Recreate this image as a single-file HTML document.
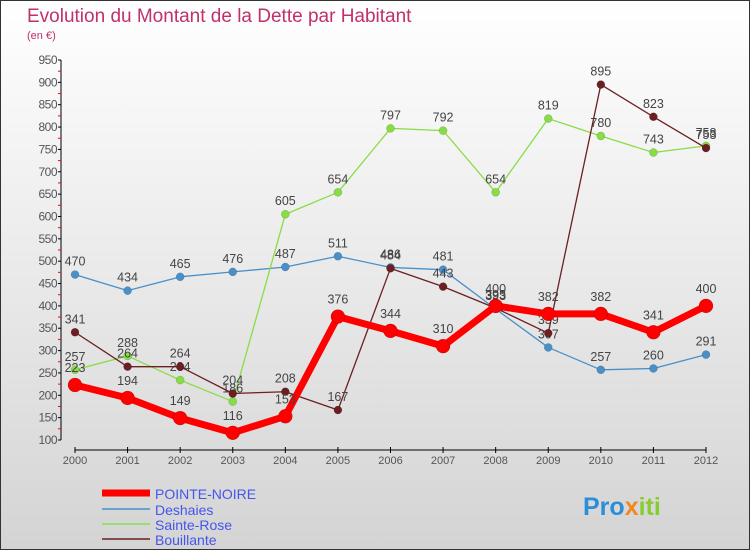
<!DOCTYPE html>
<html><head><meta charset="utf-8"><style>
body{margin:0}
#c{width:750px;height:550px;position:relative;font-family:"Liberation Sans","DejaVu Sans",sans-serif;}
</style></head><body>
<div id="c">
<svg id="s" width="750" height="550" xmlns="http://www.w3.org/2000/svg">
<defs><linearGradient id="bg" x1="0" y1="0" x2="0" y2="1"><stop offset="0" stop-color="#ffffff"/><stop offset="1" stop-color="#d4d4d4"/></linearGradient></defs>
<rect x="0.5" y="0.5" width="749" height="549" fill="url(#bg)" stroke="#333"/>
<text x="27" y="22" font-size="19" fill="#c0306a">Evolution du Montant de la Dette par Habitant</text>
<text x="27" y="39" font-size="11" fill="#c0306a">(en €)</text>
<g id="axes"></g><g id="series"></g>
<g>
<line x1="102" y1="493" x2="150" y2="493" stroke="#ff0000" stroke-width="7"/>
<text x="155" y="499" font-size="14" fill="#4455ee">POINTE-NOIRE</text>
<line x1="102" y1="509" x2="150" y2="509" stroke="#4a90c8" stroke-width="1.5"/>
<text x="155" y="515" font-size="14" fill="#4455ee">Deshaies</text>
<line x1="102" y1="524" x2="150" y2="524" stroke="#88dd55" stroke-width="1.5"/>
<text x="155" y="530" font-size="14" fill="#4455ee">Sainte-Rose</text>
<line x1="102" y1="539" x2="150" y2="539" stroke="#6b1f22" stroke-width="1.5"/>
<text x="155" y="545" font-size="14" fill="#4455ee">Bouillante</text>
</g>
<text x="583" y="515" font-size="25" font-weight="bold" fill="#2a8fd8">Pro<tspan fill="#f08a20">x</tspan><tspan fill="#88cc33">iti</tspan></text>
</svg></div>
<script>
const years=[2000,2001,2002,2003,2004,2005,2006,2007,2008,2009,2010,2011,2012];
const pointeNoire=[223,194,149,116,153,376,344,310,400,382,382,341,400];
const deshaies=[470,434,465,476,487,511,486,481,393,307,257,260,291];
const sainteRose=[257,288,234,186,605,654,797,792,654,819,780,743,758];
const bouillante=[341,264,264,204,208,167,484,443,395,339,895,823,753];
const yTicks=[100,150,200,250,300,350,400,450,500,550,600,650,700,750,800,850,900,950];
const NS='http://www.w3.org/2000/svg';
const X=i=>75+i*(706-75)/(years.length-1);
const Y=v=>440-(v-100)*(380/850);
function mk(t,a,p){const e=document.createElementNS(NS,t);for(const k in a)e.setAttribute(k,a[k]);p.appendChild(e);return e;}
const ax=document.getElementById('axes');
let yl=mk('line',{x1:61,y1:Y(950),x2:61,y2:Y(100),stroke:'#000'},ax);


let xl=mk('line',{x1:X(0),y1:450,x2:X(years.length-1),y2:450,stroke:'#000'},ax);


yTicks.forEach((v,i)=>{
 mk('line',{x1:58,y1:Y(v),x2:61,y2:Y(v),stroke:'#000'},ax);
 if(i<yTicks.length-1)mk('line',{x1:58,y1:Y(v+25),x2:61,y2:Y(v+25),stroke:'#f00'},ax);
 const t=mk('text',{x:57,y:Y(v)+4,'font-size':12,fill:'#555','text-anchor':'end','letter-spacing':'-0.5'},ax);
 t.textContent=v;
 
 
});
years.forEach((y,i)=>{
 mk('line',{x1:X(i),y1:447,x2:X(i),y2:453,stroke:'#000'},ax);
 const t=mk('text',{x:X(i),y:464,'font-size':11,fill:'#555','text-anchor':'middle'},ax);
 t.textContent=y;
 
 
});
const sg=document.getElementById('series');
function draw(data,name,color,w,r){
 const g=mk('g',{},sg);
 
 
 mk('polyline',{points:data.map((v,i)=>X(i)+','+Y(v)).join(' '),fill:'none',stroke:color,'stroke-width':w,'stroke-linejoin':'round'},g);
 data.forEach((v,i)=>{
  const c=mk('circle',{cx:X(i),cy:Y(v),r:r,fill:color,stroke:'rgba(0,0,0,0.25)','stroke-width':0.5},g);
  
  
  const t=mk('text',{x:X(i),y:Y(v)-9-(r>5?4:0),'font-size':12.5,fill:'#444','text-anchor':'middle'},g);
  t.textContent=v;
 });
}
draw(deshaies,'deshaies','#4a90c8',1.3,4);
draw(sainteRose,'sainte-rose','#88dd44',1.3,4);
draw(bouillante,'bouillante','#6b1f22',1.3,4);
draw(pointeNoire,'pointe-noire','#ff0000',7,7);
</script>
</body></html>
